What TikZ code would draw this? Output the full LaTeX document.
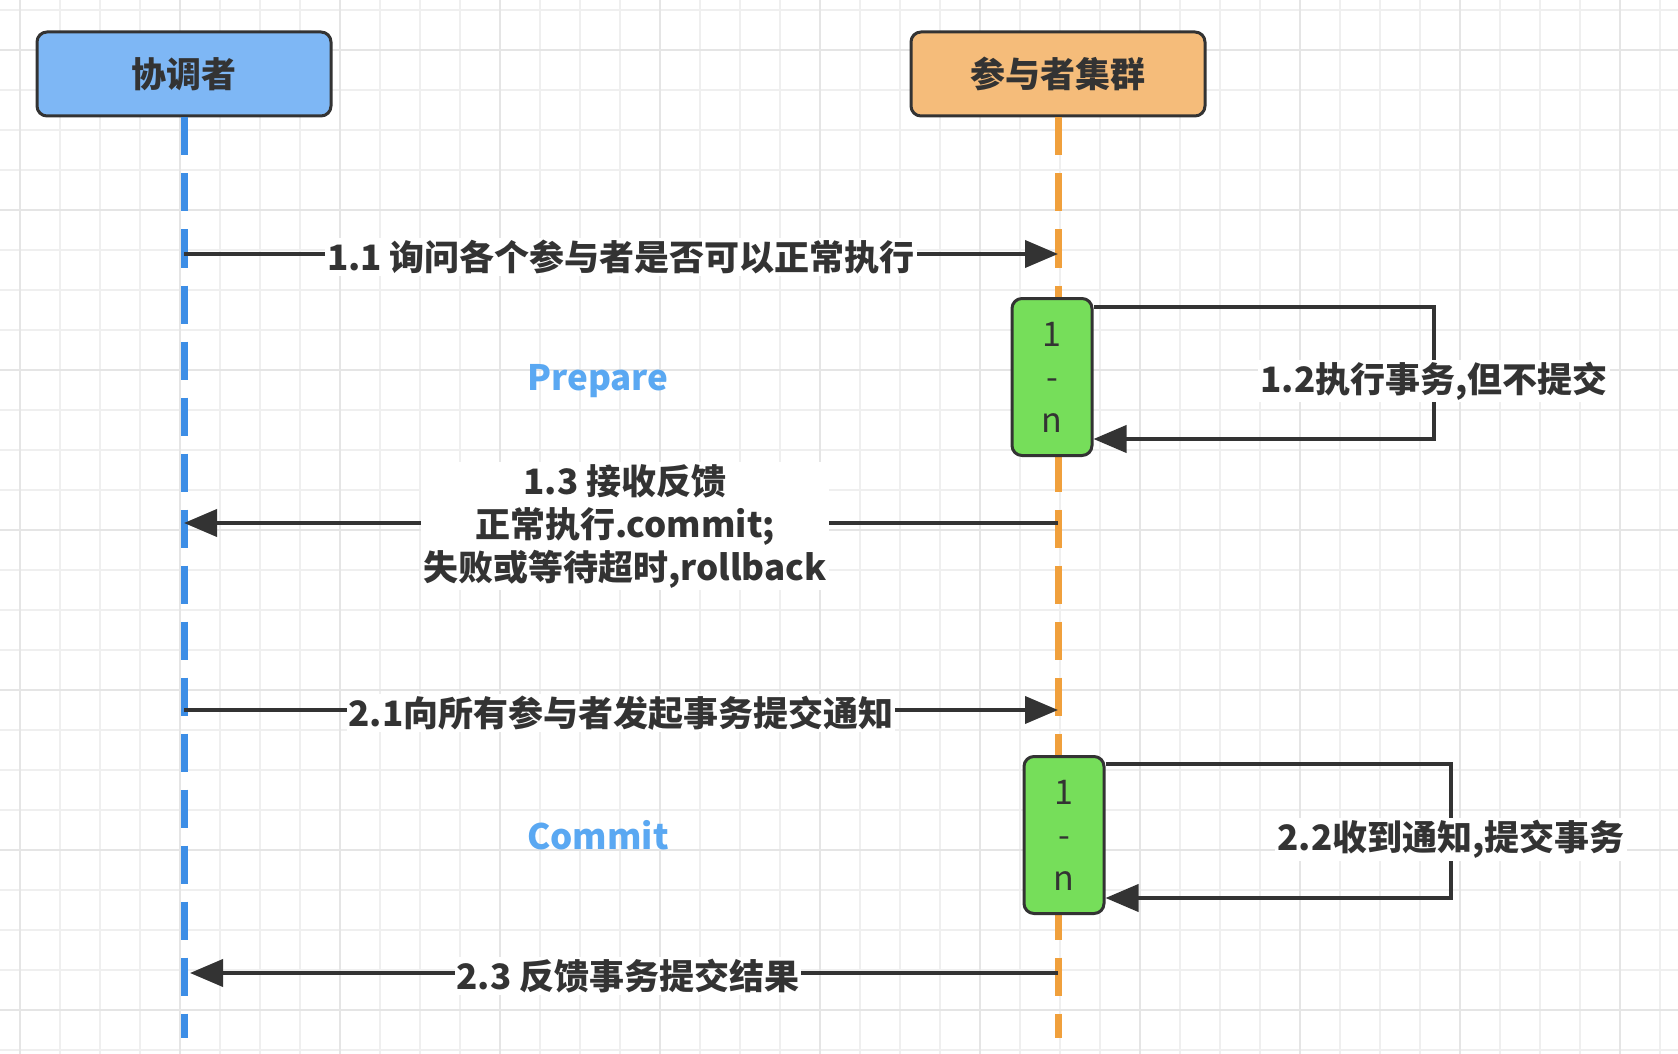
\documentclass[tikz,border=0pt]{standalone}
\usepackage{fontspec}
\setmainfont{Noto Sans CJK SC}
\usepackage{xcolor}
\usetikzlibrary{arrows.meta}

\definecolor{gridc}{HTML}{EFEFEF}
\definecolor{gridm}{HTML}{E5E5E5}
\definecolor{ink}{HTML}{333333}
\definecolor{coordc}{HTML}{7EB7F5}
\definecolor{partc}{HTML}{F5BC7A}
\definecolor{actc}{HTML}{76DE5A}
\definecolor{blueline}{HTML}{3D8EE6}
\definecolor{orangeline}{HTML}{F0A03C}
\definecolor{phasec}{HTML}{5AA8F2}

\begin{document}
\begin{tikzpicture}[x=0.5pt, y=-0.5pt,
        role/.style={rectangle, rounded corners=5pt, draw=ink, line width=1.5pt, minimum width=147pt, minimum height=42pt, text=ink, font=\bfseries\fontsize{17.5}{21}\selectfont},
        act/.style={rectangle, rounded corners=5pt, draw=ink, line width=1.5pt, fill=actc, minimum width=40pt, minimum height=78.5pt, align=center, text=ink, font=\fontsize{17}{21.5}\selectfont},
        life/.style={line width=3.5pt, dash pattern=on 19pt off 9pt},
        msg/.style={draw=ink, line width=2pt, -{Triangle[length=16.5pt, width=13.5pt]}},
        lbl/.style={fill=white, inner sep=1pt, yshift=-1.5pt, text=ink, align=center, font=\bfseries\fontsize{17.5}{21.5}\selectfont},
        phase/.style={text=phasec, font=\bfseries\fontsize{17.5}{21}\selectfont}]
                        \fill[white] (0,0) rectangle (1678,1054);
                        \useasboundingbox (0,0) rectangle (1678,1054);
                        
                        % grid
                        \foreach \gx in {20,60,...,1660} \draw[gridc, line width=1pt] (\gx,0) -- (\gx,1054);
                        \foreach \gy in {10,50,...,1050} \draw[gridc, line width=1pt] (0,\gy) -- (1678,\gy);
                        \foreach \gx in {20,180,...,1660} \draw[gridm, line width=1pt] (\gx,0) -- (\gx,1054);
                        \foreach \gy in {50,210,...,1050} \draw[gridm, line width=1pt] (0,\gy) -- (1678,\gy);
                        
                        \node (coord) at (184, 74) [role, fill=coordc] {协调者};
                        \node (part) at (1058, 74) [role, fill=partc] {参与者集群};
                        
                        \coordinate (coordend) at (184, 1038);
                        \coordinate (partend) at (1058, 1038);
                        \draw[life, blueline] (coord.south) -- (coordend);
                        \draw[life, orangeline] (part.south) -- (partend);
                        
                        \node (act1) at (1052, 377) [act] {1\\-\\n};
                        \node (act2) at (1064, 835) [act] {1\\-\\n};
                        
                        \node (prep) at (598, 381) [phase] {Prepare};
                        \node (comm) at (598, 835) [phase] {Commit};
                        
                        \coordinate (c11) at (184, 254);
                        \coordinate (p11) at (1058, 254);
                        \coordinate (c13) at (184, 523);
                        \coordinate (p13) at (1058, 523);
                        \coordinate (c21) at (184, 710);
                        \coordinate (p21) at (1058, 710);
                        \coordinate (c23) at (190, 973);
                        \coordinate (p23) at (1058, 973);
                        
                        \coordinate (l12a) at (1434, 307);
                        \coordinate (l12b) at (1434, 439);
                        \coordinate (l22a) at (1451, 764);
                        \coordinate (l22b) at (1451, 898);
                        
                        \draw[msg] (c11) -- node [lbl] {1.1 询问各个参与者是否可以正常执行} (p11);
                        
                        \draw[msg] (act1.east |- l12a) -- (l12a) -- node [lbl, pos=0.54] {1.2执行事务,但不提交} (l12b) -- (act1.east |- l12b);
                        
                        \draw[msg] (p13) -- node [lbl, xshift=2pt] {1.3 接收反馈\\正常执行.commit;\\失败或等待超时,rollback} (c13);
                        
                        \draw[msg] (c21) -- node [lbl] {2.1向所有参与者发起事务提交通知} (p21);
                        
                        \draw[msg] (act2.east |- l22a) -- (l22a) -- node [lbl, pos=0.54] {2.2收到通知,提交事务} (l22b) -- (act2.east |- l22b);
                        
                        \draw[msg] (p23) -- node [lbl, xshift=2pt] {2.3 反馈事务提交结果} (c23);
                    \end{tikzpicture}
\end{document}
